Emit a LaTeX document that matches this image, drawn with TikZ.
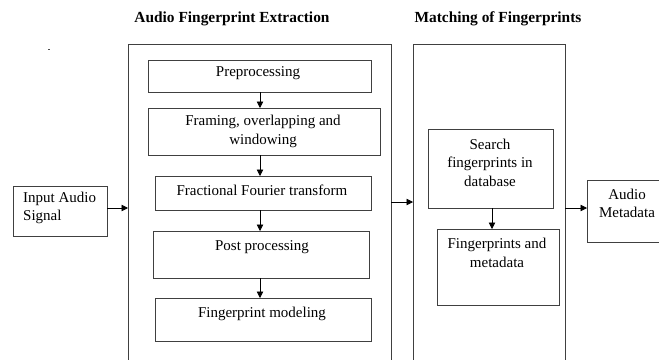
\documentclass[tikz,border=0pt]{standalone}
\usepackage{fontspec}
\setmainfont{Liberation Serif}
\usetikzlibrary{arrows.meta}
\begin{document}
\begin{tikzpicture}[x=1pt,y=-1pt,
  box/.style={draw=black!75,line width=0.9pt,inner sep=0pt,outer sep=0pt,anchor=north west},
  txt/.style={inner sep=0pt,align=center,font=\fontsize{15}{18.5}\selectfont},
  ttl/.style={inner sep=0pt,font=\fontsize{15.4}{18}\selectfont\bfseries},
  arr/.style={-{Triangle[length=6.5pt,width=6.5pt]},line width=0.8pt,black}]
\useasboundingbox (0,0) rectangle (659,359);
\clip (0,0) rectangle (659,359);
\fill[white] (0,0) rectangle (659,359);
% titles
\node[ttl] (t1) at (232,18.5) {Audio Fingerprint Extraction};
\node[ttl] (t2) at (498,18.5) {Matching of Fingerprints};
\fill[black!70] (48,48.5) rectangle (50,49.5);
% containers
\node[box,minimum width=263pt,minimum height=340pt] (ext) at (128,44) {};
\node[box,minimum width=152pt,minimum height=340pt] (mat) at (413,44) {};
% extraction steps
\node[box,minimum width=223pt,minimum height=32pt] (pre) at (148,60) {};
\node[box,minimum width=232pt,minimum height=47pt] (frm) at (148,108) {};
\node[box,minimum width=216pt,minimum height=34pt] (fft) at (155,176) {};
\node[box,minimum width=216pt,minimum height=47pt] (post) at (153,231) {};
\node[box,minimum width=216pt,minimum height=43pt] (mod) at (155,298) {};
\node[txt] at (258,73.5) {Preprocessing};
\node[txt] at (263,131.5) {Framing, overlapping and\\windowing};
\node[txt] at (262,190.5) {Fractional Fourier transform};
\node[txt] at (262,247.5) {Post processing};
\node[txt] at (262,313.5) {Fingerprint modeling};
% input
\node[box,minimum width=94pt,minimum height=50pt] (in) at (13,186) {};
\node[txt,align=left,anchor=west] at (23,208) {Input Audio\\Signal};
% matching
\node[box,minimum width=125pt,minimum height=79pt] (srch) at (428,129) {};
\node[box,minimum width=122pt,minimum height=76pt] (fdb) at (437,229) {};
\node[txt] at (490,162.5) {Search\\fingerprints in\\database};
\node[txt] at (497,253) {Fingerprints and\\metadata};
% output
\node[box,minimum width=90pt,minimum height=62pt] (meta) at (587,180) {};
\node[txt] at (627,203.5) {Audio\\Metadata};
% arrows
\draw[arr] (pre.south -| 260,0) -- (frm.north -| 260,0);
\draw[arr] (frm.south -| 260,0) -- (fft.north -| 260,0);
\draw[arr] (fft.south -| 260,0) -- (post.north -| 260,0);
\draw[arr] (post.south -| 260,0) -- (mod.north -| 260,0);
\draw[arr] (in.east |- 0,208) -- (ext.west |- 0,208);
\draw[arr] (ext.east |- 0,202) -- (mat.west |- 0,202);
\draw[arr] (srch.south -| 492,0) -- (fdb.north -| 492,0);
\draw[arr] (mat.east |- 0,208) -- (meta.west |- 0,208);
\end{tikzpicture}
\end{document}
